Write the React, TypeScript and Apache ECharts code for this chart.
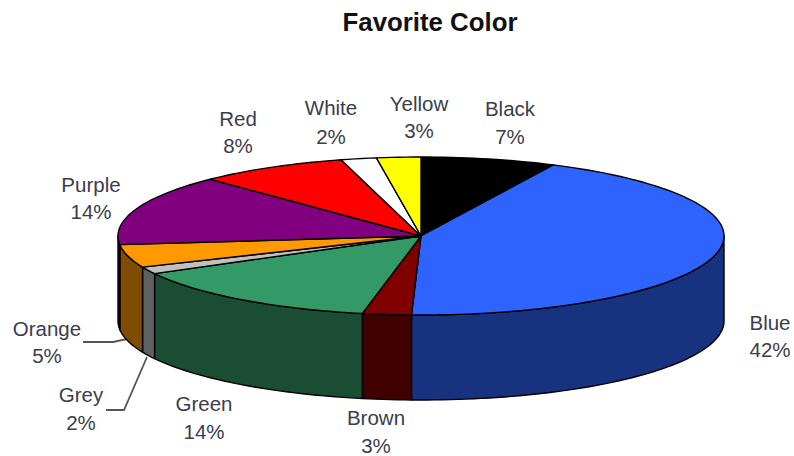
import React, { useEffect, useRef } from "react";
import * as echarts from "echarts";

const titleText = "Favorite Color";
const categories = ["Black", "Blue", "Brown", "Green", "Grey", "Orange", "Purple", "Red", "White", "Yellow"];
// Slice sizes (percent of the circle)
const sliceShares = [7.2, 43.3, 2.6, 14.0, 1.45, 4.7, 14.5, 8.0, 1.9, 2.35];
// Percentages printed on the labels
const printedPercent = [7, 42, 3, 14, 2, 5, 14, 8, 2, 3];
const topColors = ["#000000", "#2E63FF", "#800000", "#339966", "#C0C0C0", "#FF9900", "#800080", "#FF0000", "#FFFFFF", "#FFFF00"];
const sideColors = ["#000000", "#17327F", "#400000", "#1A4D33", "#606060", "#804D00", "#400040", "#800000", "#808080", "#808000"];
// Label centres [x, name line y, percent line y]
const labelSpots = [
  [510, 108, 136], [770, 322, 349], [376, 417, 445], [204, 403, 431], [81, 394, 422],
  [47, 328, 355], [91, 184, 211], [238, 118, 145], [331, 107, 136], [419, 103, 130],
];
const leaderLines = [
  [[83, 342], [113, 342], [127, 339]],
  [[106, 410], [124, 410], [147, 357]],
];

const CX = 421, CY = 236, RX = 303, RY = 79, DEPTH = 85;
const TEXT_COLOR = "#3c3c4c";

const pt = (deg: number, dy = 0): number[] => {
  const r = (deg * Math.PI) / 180;
  return [CX + RX * Math.sin(r), CY + dy - RY * Math.cos(r)];
};

const arc = (from: number, to: number, dy = 0): number[][] => {
  const steps = Math.max(2, Math.ceil(Math.abs(to - from) / 1.5));
  const out: number[][] = [];
  for (let i = 0; i <= steps; i++) out.push(pt(from + ((to - from) * i) / steps, dy));
  return out;
};

const total = sliceShares.reduce((a, b) => a + b, 0);
let running = 0;
const sliceData = sliceShares.map((s, i) => {
  const start = (running / total) * 360;
  running += s;
  return { name: categories[i], value: [start, (running / total) * 360] };
});

export default function App() {
  const ref = useRef<HTMLDivElement>(null);
  useEffect(() => {
    document.body.style.margin = "0";
    const chart = echarts.init(ref.current!, undefined, { renderer: "svg" });
    const line = { stroke: "#000000", lineWidth: 1.4, lineJoin: "round" };
    chart.setOption({
      animation: false,
      backgroundColor: "#ffffff",
      title: {
        text: titleText,
        left: 425,
        top: 4,
        textAlign: "center",
        textStyle: { fontFamily: "Liberation Sans", fontSize: 25.8, fontWeight: "bold", color: "#111111" },
      },
      series: [
        {
          type: "custom",
          coordinateSystem: "none",
          silent: true,
          data: sliceData,
          renderItem: (params: any, api: any) => {
            const i = params.dataIndex;
            const a0 = api.value(0), a1 = api.value(1);
            const children: any[] = [];
            const s0 = Math.max(a0, 90), s1 = Math.min(a1, 270);
            if (s1 > s0) {
              const pts = [...arc(s0, s1), ...arc(s1, s0, DEPTH)];
              children.push({
                type: "polygon",
                shape: { points: pts },
                style: { fill: sideColors[i], ...line },
              });
            }
            children.push({
              type: "polygon",
              z2: 5,
              shape: { points: [[CX, CY], ...arc(a0, a1)] },
              style: { fill: topColors[i], ...line },
            });
            const [lx, ly1, ly2] = labelSpots[i];
            const common = {
              x: lx,
              fill: TEXT_COLOR,
              font: "20.5px 'Liberation Sans'",
              align: "center",
              verticalAlign: "middle",
            };
            children.push({ type: "text", z2: 10, style: { ...common, y: ly1, text: categories[i] } });
            children.push({ type: "text", z2: 10, style: { ...common, y: ly2, text: printedPercent[i] + "%" } });
            return { type: "group", children };
          },
        },
      ],
      graphic: leaderLines.map((points) => ({
        type: "polyline",
        shape: { points },
        style: { stroke: "#555555", lineWidth: 1.8, fill: "none" },
      })),
    });
    return () => chart.dispose();
  }, []);
  return <div ref={ref} style={{ width: 794, height: 456 }} />;
}
